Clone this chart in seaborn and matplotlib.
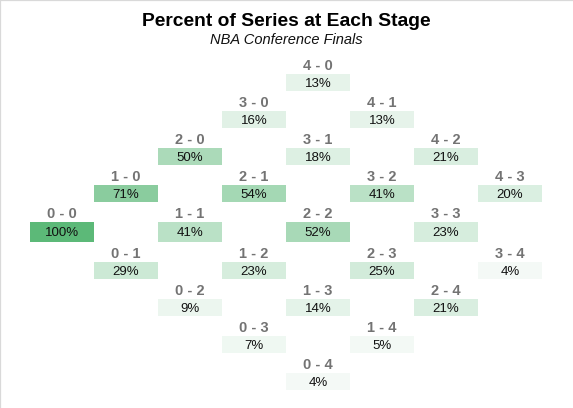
import numpy as np
import pandas as pd
import matplotlib
matplotlib.use("Agg")
import matplotlib.pyplot as plt
from matplotlib.lines import Line2D
import seaborn as sns

# ---- data ----
wins    = [0, 1, 0, 2, 1, 0, 3, 2, 1, 0, 4, 3, 2, 1, 0, 4, 3, 2, 1, 4, 3, 2, 4, 3]
losses  = [0, 0, 1, 0, 1, 2, 0, 1, 2, 3, 0, 1, 2, 3, 4, 1, 2, 3, 4, 2, 3, 4, 3, 4]
percent = [100, 71, 29, 50, 41, 9, 16, 54, 23, 7, 13, 18, 52, 14, 4, 13, 41, 25, 5, 21, 23, 21, 20, 4]

title = "Percent of Series at Each Stage"
subtitle = "NBA Conference Finals"

sns.set_theme(style="white")
plt.rcParams["font.family"] = ["Liberation Sans", "DejaVu Sans"]

W, H = 573, 408
fig = plt.figure(figsize=(W / 100, H / 100), dpi=100)

df = pd.DataFrame({"w": wins, "l": losses, "pct": percent})
df["games"] = df.w + df.l
df["diff"] = df.w - df.l
df["label"] = df.w.astype(str) + " - " + df.l.astype(str)
df["text"] = df.pct.astype(str) + "%"

games = list(range(8))
diff_levels = [4, 3, 2, 1, 0, -1, -2, -3, -4]
cmap = sns.blend_palette(["#fafcfb", "#5cb978"], as_cmap=True)

left_px, col_px = 30, 64
first_top, step = 74, 37

for i, d in enumerate(diff_levels):
    top = first_top + step * i + (3 if d < 0 else 0)
    h = 20 if d == 0 else 17
    ax = fig.add_axes([left_px / W, 1 - (top + h) / H, 8 * col_px / W, h / H])
    sub = df[df["diff"] == d].set_index("games").reindex(games)
    vals = sub[["pct"]].T.to_numpy(dtype=float)
    annot = sub[["text"]].T.fillna("").to_numpy()
    sns.heatmap(vals, ax=ax, cmap=cmap, vmin=0, vmax=100, cbar=False,
                annot=annot, fmt="",
                annot_kws=dict(color="#111111", fontsize=9.5, va="center_baseline"),
                xticklabels=False, yticklabels=False, linewidths=0)
    ax.set_axis_off()
    for g, lab in zip(sub.index, sub["label"]):
        if isinstance(lab, str):
            ax.annotate(lab, xy=(g + 0.5, 0), xytext=(0, 3.7 * 0.72),
                        textcoords="offset points", ha="center", va="baseline",
                        fontsize=10.5, fontweight="bold", color="#737373",
                        annotation_clip=False)

fig.text(0.5, 1 - 25.5 / H, title, ha="center", va="baseline",
         fontsize=13.9, fontweight="bold", color="black")
fig.text(0.5, 1 - 44.5 / H, subtitle, ha="center", va="baseline",
         fontsize=10.5, fontstyle="italic", color="#111111")

fig.add_artist(Line2D([0, 0], [0, 1], transform=fig.transFigure, color="#d9d9d9", lw=1.6))
fig.add_artist(Line2D([0, 1], [1, 1], transform=fig.transFigure, color="#d9d9d9", lw=1.6))

fig.savefig("out.png", dpi=100)
